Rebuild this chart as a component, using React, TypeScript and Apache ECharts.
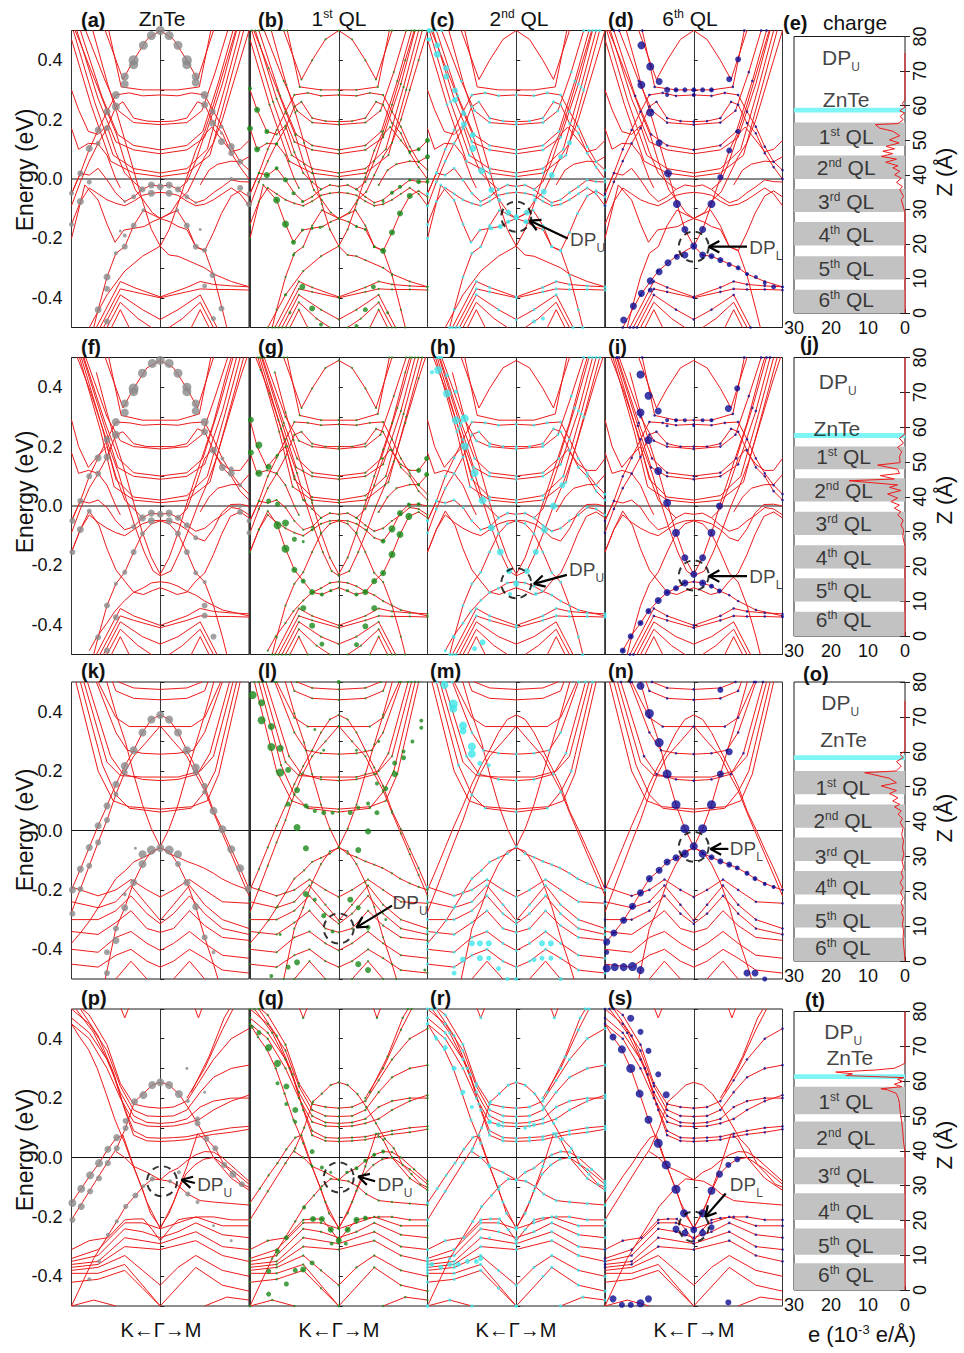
import React, { useEffect, useRef } from "react";
import * as echarts from "echarts";

const FONT = "'Liberation Sans', Arial, 'DejaVu Sans', sans-serif";
const W = 964;
const H = 1353;

// ---------------- layout (pixels) ----------------
const COL_LEFT = [71.5, 250, 427.5, 605];
const COL_W = 177.5;
const ROW_TOP = [30.5, 357.5, 682, 1009];
const ROW_H = 297;
const CH_LEFT = 794;
const CH_W = 111;
const CH_TOP = [36.5, 357.5, 682, 1011.5];
const CH_H = [276.5, 278.5, 279, 278.5];

// ---------------- axis / tick data ----------------
const energyTickLabels = ["-0.4", "-0.2", "0.0", "0.2", "0.4"];
const panelLetters = [
  ["(a)", "(b)", "(c)", "(d)", "(e)"],
  ["(f)", "(g)", "(h)", "(i)", "(j)"],
  ["(k)", "(l)", "(m)", "(n)", "(o)"],
  ["(p)", "(q)", "(r)", "(s)", "(t)"],
];
const columnTitles = ["ZnTe", "1{s|st} QL", "2{s|nd} QL", "6{s|th} QL"];
const qlNames = ["1{s|st} QL", "2{s|nd} QL", "3{s|rd} QL", "4{s|th} QL", "5{s|th} QL", "6{s|th} QL"];

// ---------------- band structures: [k, E(eV)] vertices, k=-1 (K) .. 0 (Γ) .. 1 (M) ----------------
const bandsR1 = [
  [[-0.8,0.75],[-0.62,0.5],[-0.42,0.335],[-0.3,0.4],[-0.15,0.47],[0,0.5],[0.15,0.47],[0.3,0.4],[0.42,0.335],[0.6,0.5],[0.8,0.75]],
  [[-0.76,0.75],[-0.58,0.5],[-0.44,0.31],[-0.2,0.3],[0,0.3],[0.2,0.3],[0.44,0.31],[0.57,0.5],[0.75,0.75]],
  [[-1,-0.05],[-0.9,0.02],[-0.8,0.1],[-0.7,0.165],[-0.6,0.227],[-0.5,0.283],[-0.35,0.29],[-0.2,0.28],[0,0.283],[0.2,0.28],[0.35,0.29],[0.5,0.283],[0.6,0.227],[0.7,0.176],[0.8,0.109],[0.9,0.058],[1,0.03]],
  [[-1,-0.09],[-0.9,-0.01],[-0.8,0.06],[-0.7,0.12],[-0.6,0.171],[-0.5,0.244],[-0.42,0.26],[-0.3,0.205],[-0.15,0.195],[0,0.193],[0.15,0.195],[0.3,0.205],[0.42,0.26],[0.5,0.25],[0.6,0.188],[0.7,0.154],[0.8,0.087],[0.9,0.04],[1,0.0]],
  [[-0.84,0.5],[-0.62,0.33],[-0.47,0.23],[-0.3,0.19],[0,0.183],[0.3,0.19],[0.47,0.23],[0.62,0.36],[0.76,0.5]],
  [[-0.9,0.5],[-0.66,0.28],[-0.48,0.15],[-0.3,0.113],[0,0.098],[0.3,0.113],[0.48,0.16],[0.66,0.33],[0.82,0.5]],
  [[-0.94,0.5],[-0.7,0.27],[-0.5,0.125],[-0.3,0.098],[0,0.085],[0.3,0.098],[0.5,0.14],[0.7,0.32],[0.86,0.5]],
  [[-0.98,0.5],[-0.74,0.26],[-0.53,0.08],[-0.3,0.035],[0,0.02],[0.3,0.035],[0.53,0.1],[0.73,0.31],[0.9,0.5]],
  [[-1,0.47],[-0.78,0.25],[-0.56,0.06],[-0.3,0.02],[0,0.008],[0.3,0.02],[0.56,0.08],[0.76,0.3],[0.94,0.5]],
  [[-1,0.3],[-0.92,0.233],[-0.81,0.16],[-0.7,0.15],[-0.6,0.18],[-0.5,0.09],[-0.4,0.02],[-0.3,-0.01],[-0.2,-0.035]],
  [[-1,0.17],[-0.92,0.1],[-0.81,0.12],[-0.7,0.118],[-0.6,0.08],[-0.5,0.0],[-0.45,-0.03]],
  [[0.2,-0.035],[0.3,-0.01],[0.4,0.06],[0.5,0.15],[0.58,0.175],[0.7,0.13],[0.8,0.092],[0.9,0.1],[1,0.13]],
  [[0.45,-0.02],[0.55,0.03],[0.65,0.05],[0.8,0.06],[0.9,0.058],[1,0.075]],
  [[-1,-0.05],[-0.9,0.02],[-0.8,0.013],[-0.7,0.036],[-0.6,-0.003],[-0.5,-0.048],[-0.4,-0.076],[-0.3,-0.06],[-0.2,-0.035],[-0.1,-0.02],[0,-0.025],[0.1,-0.02],[0.2,-0.035],[0.3,-0.06],[0.4,-0.08],[0.5,-0.07],[0.6,-0.046],[0.7,-0.026],[0.8,-0.003],[0.9,-0.009],[1,-0.01]],
  [[-1,-0.153],[-0.9,-0.076],[-0.8,-0.03],[-0.7,-0.05],[-0.6,-0.07],[-0.5,-0.082],[-0.4,-0.09],[-0.3,-0.075],[-0.2,-0.055],[-0.1,-0.048],[0,-0.045],[0.1,-0.048],[0.2,-0.055],[0.3,-0.075],[0.4,-0.09],[0.5,-0.085],[0.6,-0.07],[0.7,-0.05],[0.8,-0.03],[0.9,-0.05],[1,-0.09]],
  [[-1,-0.2],[-0.85,-0.02],[-0.7,-0.071],[-0.6,-0.152],[-0.51,-0.213],[-0.41,-0.172],[-0.3,-0.166],[-0.18,-0.16],[-0.09,-0.144],[0,-0.133],[0.11,-0.144],[0.2,-0.16],[0.3,-0.17],[0.4,-0.228],[0.5,-0.242],[0.6,-0.18],[0.69,-0.116],[0.8,-0.057],[0.9,-0.04],[1,-0.06]],
  [[-1,0.53],[-0.89,0.45],[-0.79,0.373],[-0.69,0.298],[-0.59,0.22],[-0.49,0.148],[-0.39,0.05],[-0.28,-0.037],[-0.19,-0.071],[-0.09,-0.113],[0,-0.133],[0.12,-0.113],[0.21,-0.071],[0.31,-0.043],[0.4,0.013],[0.5,0.075],[0.6,0.122],[0.7,0.2],[0.8,0.3],[0.9,0.4],[1,0.5]],
  [[-0.75,-0.5],[-0.7,-0.44],[-0.6,-0.33],[-0.5,-0.25],[-0.4,-0.228],[-0.3,-0.157],[-0.19,-0.105],[0,-0.133],[0.19,-0.105],[0.3,-0.157],[0.4,-0.228],[0.5,-0.24],[0.6,-0.324],[0.7,-0.44],[0.75,-0.5]],
  [[-0.8,-0.5],[-0.6,-0.39],[-0.4,-0.31],[-0.2,-0.26],[0,-0.226],[0.1,-0.256],[0.2,-0.26],[0.3,-0.273],[0.5,-0.299],[0.6,-0.32],[0.8,-0.345],[1,-0.363]],
  [[-0.76,0.5],[-0.59,0.317],[-0.49,0.224],[-0.39,0.122],[-0.29,0.019],[-0.19,-0.084],[-0.1,-0.17],[0,-0.226],[0.1,-0.17],[0.2,-0.084],[0.3,0.006],[0.4,0.096],[0.5,0.16],[0.6,0.25],[0.75,0.4],[0.85,0.5]],
  [[-0.72,-0.5],[-0.45,-0.345],[-0.3,-0.365],[0,-0.397],[0.3,-0.365],[0.45,-0.345],[0.6,-0.355],[0.8,-0.36],[1,-0.363]],
  [[-0.68,-0.5],[-0.45,-0.37],[-0.3,-0.38],[0,-0.4],[0.3,-0.38],[0.45,-0.37],[0.6,-0.372],[0.8,-0.372],[1,-0.374]],
  [[-0.64,-0.5],[-0.45,-0.39],[-0.2,-0.44],[0,-0.473],[0.2,-0.44],[0.45,-0.39],[0.64,-0.5]],
  [[-0.6,-0.5],[-0.45,-0.415],[-0.25,-0.47],[-0.1,-0.5]],
  [[0.1,-0.5],[0.25,-0.47],[0.45,-0.415],[0.6,-0.5]],
  [[-0.55,-0.5],[-0.45,-0.44],[-0.35,-0.5]],
  [[0.35,-0.5],[0.45,-0.44],[0.55,-0.5]],
];

const bandsR2 = [
  [[-0.8,0.75],[-0.62,0.5],[-0.42,0.33],[-0.3,0.396],[-0.15,0.465],[0,0.49],[0.15,0.465],[0.3,0.396],[0.42,0.33],[0.6,0.5],[0.8,0.75]],
  [[-0.76,0.75],[-0.58,0.5],[-0.44,0.305],[-0.2,0.289],[0,0.289],[0.2,0.289],[0.44,0.31],[0.57,0.5],[0.75,0.75]],
  [[-1,-0.05],[-0.9,0.017],[-0.8,0.1],[-0.7,0.162],[-0.6,0.224],[-0.5,0.283],[-0.35,0.28],[-0.2,0.272],[0,0.275],[0.2,0.272],[0.35,0.28],[0.5,0.283],[0.6,0.225],[0.7,0.16],[0.8,0.11],[0.9,0.07],[1,0.04]],
  [[-1,-0.09],[-0.9,-0.01],[-0.8,0.06],[-0.7,0.109],[-0.6,0.165],[-0.5,0.24],[-0.42,0.25],[-0.3,0.21],[-0.15,0.2],[0,0.2],[0.15,0.2],[0.3,0.21],[0.42,0.26],[0.5,0.25],[0.6,0.188],[0.7,0.13],[0.8,0.1],[0.9,0.05],[1,0.02]],
  [[-0.84,0.5],[-0.6,0.3],[-0.45,0.22],[-0.3,0.2],[0,0.192],[0.3,0.2],[0.47,0.24],[0.62,0.37],[0.76,0.5]],
  [[-0.86,0.5],[-0.62,0.28],[-0.47,0.16],[-0.3,0.112],[0,0.101],[0.3,0.112],[0.48,0.16],[0.66,0.33],[0.82,0.5]],
  [[-0.87,0.5],[-0.63,0.27],[-0.48,0.13],[-0.3,0.1],[0,0.09],[0.3,0.1],[0.5,0.14],[0.7,0.32],[0.86,0.5]],
  [[-0.89,0.5],[-0.65,0.26],[-0.5,0.09],[-0.3,0.03],[0,0.02],[0.3,0.035],[0.53,0.1],[0.73,0.31],[0.9,0.5]],
  [[-0.91,0.5],[-0.67,0.25],[-0.52,0.065],[-0.3,0.02],[0,0.011],[0.3,0.02],[0.56,0.08],[0.76,0.3],[0.94,0.5]],
  [[-1,0.29],[-0.92,0.2],[-0.81,0.13],[-0.7,0.17],[-0.6,0.2],[-0.5,0.1],[-0.4,0.02],[-0.3,-0.01],[-0.2,-0.04]],
  [[-1,0.18],[-0.92,0.11],[-0.81,0.12],[-0.7,0.11],[-0.6,0.07],[-0.5,0.0],[-0.45,-0.03]],
  [[0.2,-0.04],[0.3,-0.01],[0.4,0.07],[0.5,0.16],[0.58,0.19],[0.7,0.14],[0.8,0.12],[0.9,0.12],[1,0.16]],
  [[0.45,-0.02],[0.55,0.03],[0.65,0.06],[0.8,0.072],[0.9,0.072],[1,0.106]],
  [[-1,-0.05],[-0.9,0.017],[-0.8,0.01],[-0.7,0.02],[-0.6,-0.005],[-0.5,-0.05],[-0.4,-0.08],[-0.3,-0.07],[-0.2,-0.04],[-0.1,-0.024],[0,-0.028],[0.1,-0.024],[0.2,-0.04],[0.3,-0.065],[0.4,-0.085],[0.5,-0.075],[0.6,-0.05],[0.7,-0.03],[0.8,-0.005],[0.9,-0.01],[1,-0.03]],
  [[-1,-0.155],[-0.9,-0.079],[-0.8,-0.03],[-0.7,-0.055],[-0.6,-0.075],[-0.5,-0.09],[-0.4,-0.1],[-0.3,-0.08],[-0.2,-0.06],[-0.1,-0.05],[0,-0.048],[0.1,-0.05],[0.2,-0.06],[0.3,-0.08],[0.4,-0.107],[0.5,-0.118],[0.6,-0.077],[0.69,-0.024],[0.79,0.005],[0.9,0.006],[1,0.0]],
  [[-1,-0.155],[-0.9,-0.079],[-0.8,-0.017],[-0.69,-0.065],[-0.6,-0.144],[-0.5,-0.215],[-0.4,-0.253],[-0.3,-0.29],[-0.19,-0.298],[-0.09,-0.285],[0,-0.275],[0.09,-0.285],[0.19,-0.298],[0.3,-0.29],[0.4,-0.253],[0.5,-0.226],[0.6,-0.163],[0.69,-0.096],[0.79,-0.035],[0.9,-0.02],[1,-0.04]],
  [[-1,0.55],[-0.88,0.458],[-0.78,0.379],[-0.68,0.289],[-0.58,0.201],[-0.47,0.111],[-0.38,0.019],[-0.28,-0.073],[-0.18,-0.155],[-0.08,-0.219],[0,-0.235],[0.12,-0.219],[0.22,-0.155],[0.32,-0.08],[0.42,0.0],[0.52,0.07],[0.62,0.15],[0.75,0.28],[0.9,0.43],[1,0.52]],
  [[-0.72,0.45],[-0.6,0.315],[-0.51,0.222],[-0.4,0.118],[-0.3,0.011],[-0.2,-0.09],[-0.1,-0.174],[0,-0.23],[0.1,-0.174],[0.2,-0.09],[0.29,0.0],[0.4,0.1],[0.5,0.19],[0.6,0.28],[0.75,0.45],[0.8,0.5]],
  [[-0.75,-0.5],[-0.7,-0.442],[-0.6,-0.335],[-0.5,-0.262],[-0.4,-0.223],[-0.3,-0.155],[-0.2,-0.093],[-0.1,-0.06],[0,-0.05],[0.1,-0.06],[0.2,-0.093],[0.3,-0.155],[0.4,-0.225],[0.5,-0.256],[0.6,-0.335],[0.7,-0.44],[0.75,-0.5]],
  [[-0.8,-0.487],[-0.71,-0.439],[-0.6,-0.394],[-0.51,-0.354],[-0.4,-0.318],[-0.3,-0.291],[-0.2,-0.277],[-0.1,-0.259],[0,-0.255],[0.1,-0.259],[0.2,-0.27],[0.29,-0.286],[0.4,-0.3],[0.5,-0.32],[0.7,-0.35],[1,-0.37]],
  [[-0.72,-0.5],[-0.45,-0.345],[-0.3,-0.37],[0,-0.402],[0.3,-0.37],[0.45,-0.345],[0.6,-0.355],[0.8,-0.36],[1,-0.363]],
  [[-0.68,-0.5],[-0.45,-0.37],[-0.3,-0.385],[0,-0.41],[0.3,-0.385],[0.45,-0.37],[0.6,-0.372],[0.8,-0.372],[1,-0.374]],
  [[-0.64,-0.5],[-0.45,-0.39],[-0.2,-0.44],[0,-0.465],[0.2,-0.44],[0.45,-0.39],[0.64,-0.5]],
  [[-0.6,-0.5],[-0.45,-0.415],[-0.25,-0.47],[-0.1,-0.5]],
  [[0.1,-0.5],[0.25,-0.47],[0.45,-0.415],[0.6,-0.5]],
  [[-0.55,-0.5],[-0.45,-0.44],[-0.35,-0.5]],
  [[0.35,-0.5],[0.45,-0.44],[0.55,-0.5]],
];

const bandsR3 = [
  [[-0.62,0.6],[-0.47,0.5],[-0.3,0.48],[0,0.475],[0.3,0.48],[0.47,0.5],[0.62,0.6]],
  [[-0.66,0.6],[-0.5,0.47],[-0.3,0.445],[0,0.44],[0.3,0.445],[0.5,0.47],[0.66,0.6]],
  [[-1,-0.2],[-0.9,-0.13],[-0.8,-0.057],[-0.7,0.016],[-0.6,0.083],[-0.5,0.156],[-0.4,0.217],[-0.3,0.27],[-0.2,0.33],[-0.1,0.374],[0,0.389],[0.1,0.374],[0.2,0.33],[0.3,0.27],[0.4,0.212],[0.5,0.15],[0.6,0.066],[0.7,0.004],[0.8,-0.063],[0.9,-0.127],[1,-0.197]],
  [[-1,-0.275],[-0.9,-0.197],[-0.8,-0.119],[-0.7,-0.04],[-0.6,0.035],[-0.5,0.122],[-0.4,0.195],[-0.3,0.25],[-0.15,0.3],[0,0.352],[0.15,0.3],[0.3,0.25],[0.4,0.19],[0.5,0.135],[0.6,0.06],[0.7,-0.01],[0.8,-0.08],[0.9,-0.15],[1,-0.22]],
  [[-0.72,0.5],[-0.5,0.33],[-0.37,0.27],[-0.2,0.26],[0,0.257],[0.2,0.26],[0.37,0.27],[0.5,0.33],[0.7,0.5]],
  [[-0.7,0.5],[-0.5,0.38],[-0.35,0.35],[0,0.35],[0.35,0.35],[0.5,0.38],[0.68,0.5]],
  [[-0.82,0.5],[-0.56,0.25],[-0.42,0.19],[-0.2,0.172],[0,0.168],[0.2,0.172],[0.42,0.19],[0.56,0.26],[0.78,0.5]],
  [[-0.86,0.5],[-0.6,0.23],[-0.45,0.185],[-0.2,0.18],[0,0.18],[0.2,0.18],[0.45,0.2],[0.6,0.25],[0.82,0.5]],
  [[-0.9,0.5],[-0.65,0.22],[-0.5,0.12],[-0.35,0.075],[0,0.062],[0.35,0.075],[0.5,0.13],[0.62,0.2],[0.86,0.5]],
  [[-0.95,0.5],[-0.7,0.2],[-0.53,0.1],[-0.35,0.08],[0,0.072],[0.35,0.08],[0.53,0.1],[0.66,0.19],[0.9,0.5]],
  [[-0.65,0.55],[-0.5,0.394],[-0.39,0.296],[-0.3,0.19],[-0.2,0.087],[-0.1,0.006],[0,-0.055],[0.1,0.006],[0.2,0.087],[0.3,0.19],[0.4,0.29],[0.5,0.39],[0.65,0.55]],
  [[-1,-0.38],[-0.9,-0.345],[-0.79,-0.302],[-0.69,-0.255],[-0.6,-0.21],[-0.5,-0.162],[-0.39,-0.134],[-0.3,-0.106],[-0.2,-0.092],[-0.1,-0.078],[0,-0.055],[0.1,-0.078],[0.2,-0.09],[0.3,-0.104],[0.4,-0.115],[0.49,-0.126],[0.6,-0.144],[0.69,-0.162],[0.8,-0.178],[0.9,-0.19],[1,-0.2]],
  [[-0.62,-0.5],[-0.5,-0.33],[-0.4,-0.26],[-0.3,-0.175],[-0.2,-0.113],[-0.1,-0.07],[0,-0.059],[0.1,-0.07],[0.2,-0.113],[0.3,-0.175],[0.4,-0.257],[0.5,-0.36],[0.6,-0.45],[0.65,-0.5]],
  [[-1,-0.19],[-0.7,-0.22],[-0.5,-0.2],[-0.33,-0.165],[-0.15,-0.2],[0,-0.224],[0.15,-0.2],[0.33,-0.165],[0.5,-0.2],[0.7,-0.24],[1,-0.245]],
  [[-1,-0.24],[-0.7,-0.26],[-0.5,-0.24],[-0.33,-0.185],[-0.15,-0.25],[0,-0.303],[0.15,-0.25],[0.33,-0.185],[0.5,-0.25],[0.7,-0.3],[1,-0.33]],
  [[-1,-0.3],[-0.7,-0.3],[-0.5,-0.27],[-0.33,-0.22],[-0.15,-0.28],[0,-0.314],[0.15,-0.28],[0.33,-0.22],[0.5,-0.28],[0.7,-0.33],[1,-0.35]],
  [[-1,-0.34],[-0.7,-0.35],[-0.5,-0.31],[-0.33,-0.27],[-0.15,-0.33],[0,-0.343],[0.15,-0.33],[0.33,-0.27],[0.5,-0.32],[0.7,-0.36],[1,-0.37]],
  [[-1,-0.4],[-0.7,-0.41],[-0.5,-0.36],[-0.33,-0.34],[-0.15,-0.38],[0,-0.404],[0.15,-0.38],[0.33,-0.34],[0.5,-0.38],[0.7,-0.42],[1,-0.43]],
  [[-1,-0.45],[-0.7,-0.46],[-0.5,-0.42],[-0.33,-0.4],[-0.15,-0.44],[0,-0.46],[0.15,-0.44],[0.33,-0.4],[0.5,-0.43],[0.7,-0.47],[1,-0.48]],
  [[-0.5,-0.5],[-0.33,-0.44],[-0.15,-0.5]],
  [[0.15,-0.5],[0.33,-0.44],[0.5,-0.5]],
];

const bandsR4 = [
  [[-0.6,0.62],[-0.4,0.47],[-0.2,0.62]],
  [[0.25,0.62],[0.43,0.47],[0.62,0.62]],
  [[-1,0.53],[-0.8,0.48],[-0.6,0.38],[-0.45,0.25],[-0.3,0.18],[-0.15,0.17],[0,0.166],[0.15,0.17],[0.3,0.19],[0.45,0.26],[0.6,0.33],[0.8,0.4],[1,0.434]],
  [[-1,0.5],[-0.8,0.45],[-0.6,0.36],[-0.45,0.24],[-0.3,0.16],[-0.15,0.14],[0,0.138],[0.15,0.14],[0.3,0.16],[0.45,0.22],[0.6,0.27],[0.8,0.3],[1,0.311]],
  [[-1,0.47],[-0.8,0.42],[-0.6,0.33],[-0.45,0.22],[-0.3,0.14],[-0.15,0.118],[0,0.115],[0.15,0.118],[0.3,0.13],[0.45,0.17],[0.6,0.19],[0.8,0.2],[1,0.2]],
  [[-1,0.45],[-0.8,0.4],[-0.6,0.3],[-0.45,0.2],[-0.3,0.12],[-0.15,0.106],[0,0.104],[0.15,0.106],[0.3,0.115],[0.45,0.13],[0.6,0.16],[0.8,0.19],[1,0.21]],
  [[-0.95,0.5],[-0.75,0.42],[-0.55,0.3],[-0.42,0.18],[-0.3,0.09],[-0.15,0.067],[0,0.065],[0.15,0.067],[0.3,0.07],[0.45,0.08],[0.6,0.09],[0.8,0.1],[1,0.105]],
  [[-0.9,0.5],[-0.7,0.41],[-0.52,0.28],[-0.4,0.16],[-0.3,0.075],[-0.15,0.056],[0,0.054],[0.15,0.056],[0.3,0.06],[0.45,0.07],[0.6,0.078],[0.8,0.085],[1,0.095]],
  [[0.3,0.2],[0.5,0.3],[0.7,0.43],[0.82,0.5]],
  [[0.35,0.22],[0.55,0.34],[0.72,0.47],[0.78,0.5]],
  [[-1,-0.21],[-0.8,-0.114],[-0.6,-0.019],[-0.49,0.031],[-0.39,0.1],[-0.29,0.188],[-0.19,0.215],[-0.09,0.244],[0,0.253],[0.1,0.244],[0.21,0.214],[0.31,0.17],[0.42,0.115],[0.52,0.063],[0.62,0.031],[0.72,-0.025],[0.82,-0.056],[0.92,-0.09],[1,-0.1]],
  [[-1,-0.153],[-0.89,-0.105],[-0.79,-0.06],[-0.69,-0.019],[-0.59,0.028],[-0.49,0.067],[-0.42,0.075],[-0.3,-0.03],[-0.15,-0.15],[0,-0.24],[0.15,-0.15],[0.3,-0.03],[0.42,0.08],[0.5,0.06],[0.6,0.0],[0.8,-0.07],[1,-0.11]],
  [[-1,-0.5],[-0.75,-0.34],[-0.49,-0.215],[-0.39,-0.165],[-0.28,-0.128],[-0.19,-0.097],[-0.09,-0.072],[0,-0.075],[0.1,-0.05],[0.2,-0.036],[0.3,-0.011],[0.4,0.009],[0.5,0.02],[0.6,0.018],[0.7,0.0],[0.85,-0.04],[1,-0.08]],
  [[-0.5,0.02],[-0.4,0.0],[-0.3,-0.03],[-0.15,-0.05],[0,-0.075],[0.11,-0.08],[0.21,-0.097],[0.31,-0.123],[0.45,-0.145],[0.6,-0.15],[0.8,-0.155],[1,-0.16]],
  [[-1,0.45],[-0.91,0.406],[-0.81,0.364],[-0.71,0.3],[-0.61,0.215],[-0.51,0.127],[-0.4,0.048],[-0.31,-0.025],[-0.2,-0.107],[-0.11,-0.188],[0,-0.235],[0.1,-0.188],[0.2,-0.112],[0.29,-0.056],[0.39,-0.025],[0.49,-0.006],[0.6,0.0],[0.8,-0.04],[1,-0.09]],
  [[-1,-0.31],[-0.8,-0.28],[-0.59,-0.27],[-0.4,-0.21],[-0.29,-0.207],[-0.19,-0.207],[-0.09,-0.243],[0,-0.28],[0.1,-0.243],[0.2,-0.21],[0.3,-0.204],[0.45,-0.2],[0.6,-0.2],[0.8,-0.21],[1,-0.21]],
  [[-1,-0.34],[-0.7,-0.31],[-0.4,-0.22],[-0.2,-0.22],[0,-0.24],[0.2,-0.22],[0.4,-0.2],[0.7,-0.23],[1,-0.23]],
  [[-1,-0.35],[-0.7,-0.33],[-0.4,-0.24],[-0.2,-0.25],[0,-0.27],[0.2,-0.25],[0.4,-0.22],[0.7,-0.26],[1,-0.27]],
  [[-1,-0.36],[-0.7,-0.35],[-0.4,-0.27],[0,-0.29],[0.4,-0.25],[0.7,-0.3],[1,-0.31]],
  [[-1,-0.37],[-0.7,-0.36],[-0.4,-0.3],[0,-0.31],[0.4,-0.28],[0.7,-0.33],[1,-0.35]],
  [[-1,-0.38],[-0.7,-0.37],[-0.4,-0.33],[-0.2,-0.38],[0,-0.43],[0.2,-0.37],[0.4,-0.33],[0.7,-0.38],[1,-0.4]],
  [[-1,-0.39],[-0.7,-0.39],[-0.4,-0.36],[0,-0.5],[0.4,-0.37],[0.7,-0.43],[1,-0.45]],
  [[-1,-0.42],[-0.7,-0.41],[-0.4,-0.38],[-0.2,-0.44],[0,-0.5]],
  [[-1,-0.5],[-0.75,-0.48],[-0.5,-0.5]],
  [[0.5,-0.5],[0.75,-0.47],[1,-0.48]],
];

// ---------------- projected weights: [k, E, dot diameter px] ----------------
const dotsA = [
  [0,0.5,9],[-0.1,0.483,9],[-0.19,0.45,9],[-0.3,0.4,10],[-0.3,0.385,9],[-0.4,0.345,8],[-0.4,0.32,8],
  [0.1,0.483,9],[0.2,0.45,9],[0.3,0.4,10],[0.3,0.385,9],[0.4,0.345,8],[0.4,0.325,8],
  [-0.5,0.283,8],[-0.5,0.244,8],[-0.6,0.227,7],[-0.6,0.171,6],[-0.7,0.165,7],[-0.7,0.12,5],[-0.8,0.103,7],[-0.9,0.019,6],[-1,-0.048,5],[-0.9,-0.076,7],[-0.8,-0.01,5],[-1,-0.153,5],
  [0.5,0.283,8],[0.5,0.25,7],[0.59,0.227,6],[0.59,0.188,7],[0.69,0.176,4],[0.69,0.154,3],[0.69,0.126,7],[0.8,0.109,7],[0.8,0.087,6],[0.9,0.058,6],[1,-0.05,5],[1,-0.085,6],[0.9,-0.03,6],[0.8,0.0,4],
  [-0.1,-0.02,7],[0,-0.026,7],[0.1,-0.02,7],[-0.1,-0.048,7],[0.1,-0.048,7],[-0.2,-0.035,6],[0.2,-0.035,6],[-0.3,-0.06,5],[0.3,-0.06,5],[-0.4,-0.076,3],[0.4,-0.08,3],
  [-0.19,-0.105,4],[0.19,-0.105,4],[-0.3,-0.157,6],[0.3,-0.157,6],[-0.4,-0.228,6],[0.4,-0.228,6],[-0.4,-0.19,4],[-0.5,-0.25,4],[0.5,-0.24,5],
  [-0.6,-0.33,7],[-0.7,-0.44,7],[-0.6,-0.37,6],[-0.6,-0.48,6],[0.59,-0.324,6],[0.5,-0.36,5],[0.69,-0.436,6],[0.6,-0.47,5],[-0.45,-0.175,3],[0.45,-0.17,3],
];
const dotsB = [
  [-0.92,0.233,6],[-0.81,0.16,5],[-1,0.17,6],[-0.92,0.1,6],[-0.7,0.118,3],[-1,0.305,4],
  [-0.81,0.013,6],[-0.7,0.036,4],[-0.6,-0.003,5],[-0.51,-0.048,4],[-0.41,-0.076,3],
  [-0.7,-0.071,7],[-0.6,-0.152,7],[-0.51,-0.213,5],[-0.51,-0.256,3],[-0.41,-0.172,3],[-0.3,-0.166,3],[-0.21,-0.163,3],
  [0.2,-0.16,3],[0.3,-0.17,3],[0.4,-0.228,3],[0.5,-0.242,6],[0.6,-0.18,6],[0.69,-0.116,6],[0.8,-0.057,6],
  [0.5,-0.076,3],[0.6,-0.046,4],[0.69,-0.026,4],[0.8,-0.003,3],[0.9,-0.009,5],[1,-0.009,4],
  [0.8,0.092,3],[0.9,0.1,4],[1,0.075,5],[1,0.13,5],
  [-0.41,-0.363,6],[-0.3,-0.436,6],[-0.2,-0.49,4],[0.39,-0.363,5],[0.3,-0.44,5],[0.2,-0.495,4],
  [-0.6,-0.39,3],[-0.55,-0.45,3],[0.55,-0.45,3],
];
const dotsC = [
  [-0.89,0.45,6],[-0.89,0.42,7],[-0.79,0.373,6],[-0.79,0.345,6],[-0.69,0.298,6],[-0.69,0.266,6],[-0.59,0.22,5],[-0.59,0.184,6],[-0.49,0.148,6],[-0.49,0.103,7],[-0.39,0.028,7],[-0.28,-0.037,6],[-0.19,-0.071,4],[-0.09,-0.113,6],[0,-0.129,6],[0.12,-0.113,6],[0.11,-0.144,5],[-0.09,-0.144,4],[-0.18,-0.16,5],[-0.28,-0.166,4],[0.31,-0.043,6],[0.4,0.013,6],[0.5,0.075,5],[0.6,0.122,5],[0.21,-0.071,4],[0.2,-0.48,4],[0.3,-0.47,4],[-0.98,0.5,5],[-0.98,0.47,4],
];
const dotsD = [
  [-0.59,0.45,8],[-0.49,0.379,8],[-0.39,0.328,7],[-0.59,0.317,8],[-0.49,0.224,8],[-0.39,0.122,7],[-0.29,0.019,8],[0.3,0.006,6],[0.4,0.096,6],[0.5,0.16,5],[0.4,0.336,6],[0.5,0.403,6],
  [-0.3,0.3,6],[-0.2,0.3,5],[-0.1,0.3,5],[0,0.3,5],[0.1,0.3,5],[0.2,0.3,5],[-0.3,0.283,4],[0,0.283,4],
  [-0.19,-0.084,8],[0.2,-0.084,8],[-0.1,-0.17,7],[0.1,-0.17,7],[0,-0.226,7],[-0.1,-0.256,7],[0.1,-0.256,7],[0.2,-0.26,6],[0.3,-0.273,6],[0.4,-0.288,5],[0.5,-0.299,5],[-0.19,-0.262,6],[-0.29,-0.282,7],[-0.39,-0.312,7],[-0.49,-0.343,7],[-0.59,-0.385,7],[-0.68,-0.428,7],[-0.79,-0.475,7],[-0.49,-0.374,5],[0.9,-0.363,5],[0.6,-0.32,4],[0.7,-0.33,4],[0.8,-0.35,4],
];
const dotsF = [
  [-0.09,0.48,9],[-0.2,0.447,9],[-0.3,0.396,10],[-0.3,0.385,9],[-0.4,0.345,8],[-0.4,0.315,8],[-0.5,0.283,8],[-0.5,0.24,8],[-0.6,0.224,7],[-0.7,0.162,7],[-0.6,0.165,7],[-0.7,0.109,6],[-0.8,0.1,6],[-0.9,0.017,6],[-0.8,-0.017,5],[-0.9,-0.079,7],[-0.99,-0.05,6],[-0.99,-0.155,6],
  [0,0.49,9],[0.1,0.48,9],[0.2,0.447,9],[0.3,0.4,9],[0.3,0.385,9],[0.4,0.345,8],[0.4,0.32,8],[0.5,0.283,8],[0.5,0.25,7],[0.6,0.188,7],[0.7,0.13,7],[0.8,0.11,7],[0.8,0.125,5],[0.9,0.07,4],[0.7,0.16,4],
  [-0.2,-0.04,7],[-0.1,-0.024,7],[-0.1,-0.05,7],[0,-0.028,7],[0.1,-0.024,7],[0.1,-0.05,7],[0.2,-0.04,6],[0.2,-0.093,6],[0.3,-0.065,6],[0.3,-0.155,6],[0.4,-0.107,5],[0.4,-0.225,5],[-0.3,-0.07,5],[-0.2,-0.093,5],[-0.3,-0.155,6],[-0.4,-0.223,5],[-0.5,-0.262,4],[-0.6,-0.335,6],[-0.5,-0.375,6],[-0.7,-0.442,6],[-0.6,-0.487,6],[0.5,-0.335,6],[0.5,-0.369,6],[0.6,-0.44,6],[0.5,-0.256,4],[0.9,-0.02,6],[1,-0.05,5],[1,-0.09,5],[0.9,0.0,4],
];
const dotsG = [
  [-0.9,0.205,7],[-0.99,0.18,6],[-0.99,0.29,6],[-0.79,0.132,6],[-0.9,0.11,7],[-0.69,0.171,3],[-0.79,0.017,5],[-0.69,0.006,5],[-0.69,-0.065,8],[-0.6,-0.057,7],[-0.5,-0.112,5],[-0.6,-0.144,8],[-0.5,-0.215,6],[-0.4,-0.253,5],[-0.3,-0.29,6],[-0.19,-0.298,4],[-0.09,-0.285,3],[0.1,-0.285,3],[0.2,-0.298,4],[0.3,-0.29,6],[0.4,-0.253,6],[0.5,-0.226,6],[0.6,-0.163,7],[0.69,-0.096,7],[0.79,-0.035,7],[0.5,-0.118,5],[0.6,-0.077,7],[0.69,-0.024,6],[0.79,0.005,4],[0.9,0.006,4],[0.9,0.12,5],[0.9,0.072,3],[0.99,0.16,5],[0.99,0.106,5],[-0.4,-0.344,6],[-0.3,-0.403,6],[-0.19,-0.465,5],[0.4,-0.344,6],[0.3,-0.405,6],[0.2,-0.467,5],[-0.4,-0.12,3],[-0.3,-0.08,3],
];
const dotsH = [
  [-0.88,0.458,8],[-0.78,0.379,8],[-0.68,0.289,8],[-0.58,0.295,8],[-0.58,0.201,8],[-0.47,0.111,8],[-0.38,0.019,8],[-0.28,-0.073,7],[-0.18,-0.155,7],[-0.08,-0.219,6],[0.12,-0.219,6],[0,-0.262,6],[0.22,-0.155,6],[0.32,-0.08,7],[0.42,0.0,7],[0.52,0.07,6],[-0.07,-0.296,4],[0.22,-0.296,4],[-0.38,-0.459,6],[-0.47,-0.48,5],[-0.68,0.385,4],[-0.78,0.44,4],[-0.95,0.45,4],
];
const dotsI = [
  [-0.6,0.443,8],[-0.51,0.371,8],[-0.6,0.315,8],[-0.4,0.32,7],[-0.51,0.222,8],[-0.4,0.118,8],[-0.3,0.011,8],[0.29,0.0,7],[0.39,0.328,7],[0.49,0.396,6],[-0.2,-0.09,8],[0.2,-0.09,8],[-0.1,-0.174,7],[0.1,-0.174,7],[0,-0.23,7],[-0.1,-0.259,7],[0.1,-0.259,7],[-0.2,-0.277,6],[-0.3,-0.291,7],[-0.4,-0.318,7],[-0.51,-0.354,6],[-0.6,-0.394,6],[-0.71,-0.439,6],[-0.8,-0.487,6],[0.2,-0.27,5],[0.29,-0.286,5],[-0.3,0.289,4],[-0.2,0.289,4],[-0.1,0.289,4],[0.1,0.289,4],[0.2,0.289,4],[-0.3,0.27,3],[0,0.27,3],
];
const dotsK = [
  [-0.99,-0.2,7],[-0.9,-0.13,7],[-0.8,-0.057,7],[-0.7,0.016,7],[-0.6,0.083,7],[-0.5,0.156,7],[-0.4,0.217,8],[-0.9,-0.197,6],[-0.8,-0.119,6],[-0.7,-0.04,6],[-0.6,0.035,6],[-0.5,0.122,5],[-0.4,0.195,6],[-0.3,0.27,8],[-0.2,0.33,8],[-0.1,0.374,8],[0,0.389,8],[0.1,0.374,8],[0.2,0.33,8],[0.3,0.27,8],[0.4,0.212,8],[0.4,0.195,6],[0.5,0.15,6],[0.5,0.13,5],[0.6,0.066,8],[0.7,0.004,8],[0.8,-0.063,8],[0.9,-0.127,8],[0.99,-0.197,7],
  [-0.2,-0.08,8],[-0.1,-0.066,9],[0,-0.059,8],[0.1,-0.066,9],[0.2,-0.08,8],[-0.2,-0.113,8],[0.2,-0.113,6],[-0.3,-0.175,7],[0.3,-0.175,7],[-0.4,-0.26,7],[0.4,-0.257,7],[-0.5,-0.33,6],[-0.5,-0.37,7],[0.5,-0.36,6],[-0.6,-0.41,6],[-0.99,-0.28,6],[-0.6,-0.48,6],[-0.4,-0.215,4],[0.6,-0.41,4],[-0.28,-0.06,3],
];
const dotsL = [
  [-0.97,0.456,8],[-0.87,0.43,7],[-0.87,0.371,8],[-0.76,0.35,7],[-0.76,0.281,8],[-0.66,0.277,7],[-0.66,0.195,8],[-0.57,0.204,6],[-0.47,0.136,6],[-0.57,0.089,5],[-0.47,0.01,7],[-0.37,0.083,5],[-0.37,-0.06,6],[-0.27,0.066,4],[-0.17,0.06,5],[-0.07,0.06,4],[0.13,0.06,5],[0.22,0.077,4],[0.33,0.091,4],[0.43,0.06,5],[0.33,-0.003,6],[0.22,-0.066,6],[0.53,0.141,5],[0.43,0.158,4],[0.63,0.19,6],[0.63,0.227,5],[0.73,0.245,5],[0.73,0.266,4],[0.83,0.3,4],[0.93,0.346,4],[0.93,0.37,4],
  [-0.37,-0.214,6],[-0.27,-0.233,4],[-0.17,-0.287,5],[-0.07,-0.34,4],[0.13,-0.233,6],[0.22,-0.26,5],[0.33,-0.326,5],[-0.47,-0.444,6],[-0.57,-0.46,5],[0.22,-0.45,6],[0.33,-0.47,6],[-0.76,-0.49,4],[0.97,-0.47,3],[-0.66,-0.35,3],[0.53,-0.3,3],[0,0.5,4],[-0.27,0.34,3],[-0.17,0.27,3],[0.2,0.27,3],[0.45,0.3,3],
];
const dotsM = [
  [-0.81,0.49,8],[-0.71,0.426,9],[-0.71,0.41,8],[-0.6,0.353,8],[-0.6,0.335,7],[-0.5,0.283,8],[-0.5,0.258,8],[-0.41,0.226,5],[-0.31,0.22,4],[-0.5,-0.38,6],[-0.41,-0.38,6],[-0.31,-0.38,6],[-0.6,-0.435,6],[-0.41,-0.43,6],[-0.31,-0.43,5],[-0.2,-0.465,5],[0.29,-0.38,6],[0.39,-0.38,6],[0.2,-0.435,5],[0.29,-0.43,5],[0.39,-0.43,5],[-0.7,-0.48,5],[0,-0.5,4],[-0.1,-0.5,4],[0.5,-0.5,4],
];
const dotsN = [
  [-0.6,0.487,8],[-0.5,0.394,9],[-0.39,0.296,9],[-0.3,0.19,9],[-0.2,0.087,9],[-0.1,0.006,9],[0.1,0.006,9],[0.2,0.087,9],[0.3,0.19,7],[0.4,0.265,7],[0.3,0.473,6],[0,-0.053,8],[-0.1,-0.078,8],[0.1,-0.078,8],[-0.2,-0.092,7],[-0.3,-0.106,7],[-0.39,-0.134,7],[-0.5,-0.162,7],[-0.6,-0.21,7],[-0.69,-0.255,7],[-0.79,-0.302,7],[-0.9,-0.345,7],[-0.98,-0.375,7],[0.2,-0.09,6],[0.3,-0.104,6],[0.4,-0.115,6],[0.49,-0.126,5],[0.6,-0.144,5],[0.69,-0.162,5],[0.8,-0.18,4],[0.9,-0.19,4],[-0.98,-0.464,8],[-0.89,-0.46,8],[-0.79,-0.46,8],[-0.69,-0.458,9],[-0.6,-0.47,8],[0.6,-0.48,7],[0.69,-0.48,7],[0.8,-0.5,5],[-0.98,-0.41,5],
];
const dotsP = [
  [-0.99,-0.153,8],[-0.89,-0.105,8],[-0.79,-0.06,8],[-0.69,-0.019,8],[-0.59,0.028,7],[-0.49,0.067,7],[-0.99,-0.21,6],[-0.89,-0.165,7],[-0.79,-0.114,6],[-0.69,-0.07,6],[-0.59,-0.019,6],[-0.49,0.031,6],[-0.39,0.099,6],[-0.39,0.123,6],[-0.29,0.188,7],[-0.19,0.21,8],[-0.09,0.244,8],[0,0.253,8],[0.1,0.244,8],[0.21,0.214,8],[0.31,0.19,4],[0.42,0.115,6],[0.42,0.13,5],[0.52,0.063,6],[0.62,0.031,6],[0.72,-0.025,6],[0.82,-0.056,7],[0.92,-0.09,6],[-0.28,-0.128,6],[-0.19,-0.097,4],[-0.09,-0.072,5],[0.11,-0.08,4],[0.21,-0.05,4],[0.31,-0.123,5],[-0.39,-0.165,5],[-0.49,-0.215,4],[-0.59,-0.26,4],[-0.69,-0.35,4],[-0.8,-0.41,4],[0.42,-0.15,4],[0.6,-0.23,3],[0.8,-0.28,3],[0.3,0.3,3],[0.5,0.22,3],
];
const dotsQ = [
  [-0.79,0.37,7],[-0.69,0.317,7],[-0.59,0.239,6],[-0.49,0.16,6],[-0.3,0.02,5],[-0.19,-0.034,4],[-0.09,-0.05,3],[0.09,-0.05,3],[0.2,-0.036,4],[0.3,-0.011,4],[0.4,0.009,4],[0.5,0.02,4],[-0.39,-0.168,4],[-0.29,-0.207,6],[-0.19,-0.207,6],[-0.09,-0.243,6],[0,-0.28,6],[0.1,-0.243,6],[0.2,-0.21,6],[0.3,-0.204,5],[-0.08,-0.29,4],[0.08,-0.29,4],[-0.59,-0.27,5],[-0.69,-0.316,5],[-0.79,-0.383,5],[-0.79,-0.46,5],[-0.59,-0.426,5],[-0.49,-0.38,5],[-0.4,-0.377,6],[-0.3,-0.355,5],[-0.9,0.42,5],[-0.98,0.44,4],[-0.69,0.25,4],[-0.59,0.18,4],[-0.49,0.12,4],
];
const dotsR = [
  [-0.9,0.4,4],[-0.8,0.37,5],[-0.7,0.3,5],[-0.6,0.22,5],[-0.5,0.17,4],[-0.3,0.12,5],[-0.2,0.11,5],[0.1,0.1,4],[0.2,0.11,4],[-0.95,-0.36,5],[-0.85,-0.37,5],[-0.75,-0.36,5],[-0.65,-0.36,5],[-0.55,-0.35,5],[-0.45,-0.35,5],[-0.4,-0.34,5],[-0.3,-0.27,3],[0.3,-0.4,3],
];
const dotsS = [
  [-0.71,0.469,7],[-0.91,0.406,7],[-0.81,0.364,8],[-0.71,0.3,9],[-0.6,0.423,6],[-0.51,0.359,6],[-0.4,0.28,6],[-0.31,0.211,7],[-0.61,0.215,8],[-0.51,0.127,8],[-0.4,0.048,9],[-0.31,-0.025,9],[-0.2,-0.107,9],[-0.11,-0.188,8],[0.1,-0.188,8],[0.2,-0.112,8],[0.29,-0.056,7],[0.39,-0.025,6],[0.49,-0.006,6],[-0.2,-0.241,7],[-0.1,-0.254,7],[0,-0.243,7],[0.1,-0.254,7],[0.2,-0.235,6],[-0.91,-0.476,7],[-0.81,-0.496,6],[-0.71,-0.496,6],[-0.6,-0.491,8],[-0.51,-0.476,7],[0.39,-0.488,6],
];

const panelDots = [
  [dotsA, dotsB, dotsC, dotsD],
  [dotsF, dotsG, dotsH, dotsI],
  [dotsK, dotsL, dotsM, dotsN],
  [dotsP, dotsQ, dotsR, dotsS],
];
const dotColors = ["#8a8a8a", "#1a8a1a", "#3de6ea", "#0c0c94"];
// size of the faint weight dots drawn on band vertices, and which bands carry them (null = all)
const smallDotSize = [
  [0, 2.2, 3, 2.6],
  [0, 2.2, 3, 2.6],
  [0, 2.2, 3, 2.6],
  [0, 2.4, 3.2, 2.6],
];
const smallDotBands: (number[] | null)[][] = [
  [null, null, [2, 3, 4, 5, 6, 7, 8, 13, 14, 15, 17, 20, 21, 22], [1, 2, 3, 4, 5, 18, 20, 21, 22]],
  [null, null, [2, 3, 4, 5, 6, 7, 8, 13, 18, 19, 20, 21], [1, 2, 3, 4, 5, 6, 19, 20, 21]],
  [null, null, [4, 6, 8, 11, 13, 14, 15, 16, 17, 18], [0, 1, 4, 5, 6, 11, 13, 14, 15]],
  [null, null, null, [2, 3, 4, 5, 6, 7, 15, 16, 17, 18, 19]],
];

// Dirac-point annotations (panel index, circle centre, arrow tail/tip, label anchor, subscript)
const dpMarks = [
  { panel: 2, center: [0, -0.127], tail: [0.58, -0.2], tip: [0.15, -0.14], text: [0.6, -0.205], sub: "U" },
  { panel: 3, center: [0, -0.228], tail: [0.6, -0.228], tip: [0.17, -0.228], text: [0.62, -0.232], sub: "L" },
  { panel: 6, center: [0, -0.26], tail: [0.57, -0.232], tip: [0.2, -0.262], text: [0.59, -0.215], sub: "U" },
  { panel: 7, center: [0, -0.234], tail: [0.6, -0.236], tip: [0.17, -0.236], text: [0.62, -0.236], sub: "L" },
  { panel: 9, center: [0, -0.33], tail: [0.6, -0.253], tip: [0.2, -0.326], text: [0.6, -0.243], sub: "U" },
  { panel: 11, center: [0, -0.055], tail: [0.39, -0.062], tip: [0.19, -0.062], text: [0.4, -0.062], sub: "L" },
  { panel: 12, center: [0.02, -0.08], tail: [0.39, -0.086], tip: [0.24, -0.075], text: [0.41, -0.09], sub: "U" },
  { panel: 13, center: [0, -0.067], tail: [0.41, -0.08], tip: [0.22, -0.064], text: [0.43, -0.09], sub: "U" },
  { panel: 15, center: [0, -0.233], tail: [0.36, -0.121], tip: [0.13, -0.2], text: [0.4, -0.09], sub: "L" },
];

// ---------------- charge density: [e (1e-3 e/Å), Z (Å)] ----------------
const chargeE = [[0,0],[0,29],[0.5,30.9],[1,32.8],[0.4,33.7],[1.4,35.7],[0.7,36.6],[2.3,37.8],[1,39],[2.8,40],[1.4,41],[3.3,42],[1.9,42.6],[5.2,43.6],[2.3,44.5],[6.4,45.3],[3.3,46.1],[6,46.8],[2.8,47.5],[5.1,48.2],[1.6,49.2],[4.2,50.1],[1.4,51.3],[3.3,52.6],[6.9,53.5],[8,54.5],[1.9,54.8],[0.5,55.9],[1.3,56.9],[0.1,57.9],[1.4,58.5],[0,59.6],[0.7,60.6],[0,61.7],[0,75.2]];
const chargeJ = [[0,0],[0,25.7],[0.6,28.5],[0.4,30.5],[1.1,31.9],[0.5,33.3],[2,34.8],[1.1,35.7],[2.9,36.7],[1.5,37.6],[3.8,38.6],[2,39.6],[4.7,40.8],[1.1,41.8],[4.2,42.7],[2,43.4],[15.1,44.6],[2.9,45.1],[6.7,46.1],[1.5,46.7],[2,47.9],[7.4,49.1],[1.3,49.8],[1.5,51.5],[0.9,53],[2,54.2],[0.4,55.4],[1.5,56.8],[0,58],[0,80]];
const chargeO = [[0,0],[0.2,2.9],[0.4,4.8],[0.5,6.7],[0.4,8.6],[0.7,10.5],[0.4,12.4],[0.9,13.9],[0.5,15.3],[1.1,16.7],[0.5,18.2],[1.2,19.6],[0.5,21],[1.3,22.5],[0.5,23.9],[1,25.3],[0.4,26.8],[0.8,28.7],[0.3,30.6],[0.7,32.5],[0.4,34.4],[0.9,36.3],[0.5,38.2],[1.3,39.7],[0.7,40.9],[1.9,42.1],[1,43],[2.8,44.2],[1.4,44.9],[3.3,45.9],[1.9,46.8],[4.2,48],[2.3,48.9],[6.4,50.2],[2.3,51.1],[4.2,52.4],[10.9,54],[2.3,54.5],[1,55.9],[2.3,57.2],[0.5,58.3],[1.3,59.3],[0,60.2],[0,74.6]];
const chargeT = [[0,0],[0,39.8],[0.4,42.6],[0.6,45.5],[0.9,48.4],[1.3,51.2],[1.5,53.6],[1.8,55.1],[2.4,56.5],[4.7,57.5],[6.5,57.8],[0.9,58.4],[2.9,59.1],[0.6,59.9],[2,60.5],[0.3,61],[16,61.6],[14.2,62.1],[18.7,62.6],[8,63.2],[2.9,63.7],[1.1,64.5],[0,65.2],[0,80]];
const chargeCurves = [chargeE, chargeJ, chargeO, chargeT];

// QL slabs [Zmin, Zmax] (6th .. 1st) and ZnTe layer per row
const qlSlabs = [
  [[0,6.7],[9.7,16.4],[19.5,26.3],[29.2,35.9],[38.8,45.6],[48.3,55.1]],
  [[0,7],[9.9,16.6],[19.4,26.1],[29,35.7],[38.6,45.3],[47.9,54.4]],
  [[0,6.7],[9.6,16.3],[19.1,25.8],[28.7,35.4],[38.2,44.9],[47.8,54.5]],
  [[0,7.7],[10.1,17.7],[20.1,27.8],[30.4,38.1],[40.5,48.4],[50.5,58.4]],
];
const znteLayer = [[58, 59.4], [56.9, 58.3], [57.6, 59], [60.6, 62]];
// label anchors [e, Z]
const dpLabelPos = [[17.3, 73.8], [18.2, 73], [17.5, 74.1], [16.7, 74.2]];
const znteLabelPos = [[15.9, 61.9], [18.4, 59.6], [16.6, 63.6], [14.9, 66.8]];
const qlLabelE = [15.9, 16.6, 16.8, 16];
const qlLabelZ = [
  [51.1, 42, 32.3, 22.7, 13, 3.9],
  [51.5, 41.8, 32.2, 22.5, 13.2, 4.6],
  [49.7, 40.2, 29.9, 21, 11.5, 3.8],
  [54.1, 43.8, 33, 22.5, 12.7, 4.5],
];

const bandRows = [bandsR1, bandsR2, bandsR3, bandsR4];

const supRich = {
  s: { fontSize: 12, verticalAlign: "top", lineHeight: 12, fontFamily: FONT, color: "#111" },
  u: { fontSize: 12, verticalAlign: "bottom", lineHeight: 12, fontFamily: FONT, color: "#111", padding: [0, 0, -5, 0] },
};

function arrowSeries(g: number, tail: number[], tip: number[]) {
  const pxK = COL_W / 2;
  const pxE = ROW_H;
  const dx = (tip[0] - tail[0]) * pxK;
  const dy = (tip[1] - tail[1]) * pxE;
  const L = Math.hypot(dx, dy) || 1;
  const vx = -dx / L;
  const vy = -dy / L;
  const barb = (th: number) => {
    const rx = vx * Math.cos(th) - vy * Math.sin(th);
    const ry = vx * Math.sin(th) + vy * Math.cos(th);
    return [tip[0] + (rx * 12) / pxK, tip[1] + (ry * 12) / pxE];
  };
  const common = {
    type: "line",
    xAxisIndex: g,
    yAxisIndex: g,
    symbol: "none",
    silent: true,
    z: 9,
    clip: false,
    lineStyle: { color: "#000", width: 2.2 },
  };
  return [
    { ...common, data: [tail, tip] },
    { ...common, data: [barb(0.5), tip, barb(-0.5)] },
  ];
}

function buildOption() {
  const grid: any[] = [];
  const xAxis: any[] = [];
  const yAxis: any[] = [];
  const series: any[] = [];
  const graphic: any[] = [];

  for (let r = 0; r < 4; r++) {
    for (let c = 0; c < 4; c++) {
      const g = r * 4 + c;
      grid.push({
        left: COL_LEFT[c], top: ROW_TOP[r], width: COL_W, height: ROW_H,
        show: true, borderColor: "#1a1a1a", borderWidth: 1, backgroundColor: "#fff",
      });
      xAxis.push({
        type: "value", gridIndex: g, min: -1, max: 1, interval: 1,
        axisLine: { show: false }, axisTick: { show: false }, axisLabel: { show: false },
        splitLine: { show: true, lineStyle: { color: "#333", width: 1 } },
      });
      yAxis.push({
        type: "value", gridIndex: g, min: -0.5, max: 0.5, interval: 0.1,
        axisLine: { show: false },
        axisTick: { show: true, inside: true, length: 4, lineStyle: { color: "#222" } },
        axisLabel: {
          show: c === 0, margin: 9, fontSize: 18, color: "#111", fontFamily: FONT,
          formatter: (v: number) => {
            const s = (Math.abs(v) < 1e-9 ? 0 : v).toFixed(1);
            return energyTickLabels.indexOf(s) >= 0 ? s : "";
          },
        },
        splitLine: { show: false },
      });
      // zero-energy line
      series.push({
        type: "line", xAxisIndex: g, yAxisIndex: g, data: [[-1, 0], [1, 0]],
        symbol: "none", silent: true, z: 1, lineStyle: { color: "#111", width: 1 },
      });
      const bands = bandRows[r];
      bands.forEach((b) => {
        series.push({
          type: "line", xAxisIndex: g, yAxisIndex: g, data: b,
          symbol: "none", silent: true, z: 2, clip: true,
          lineStyle: { color: "#ee1a1a", width: 1 },
        });
      });
      const ss = smallDotSize[r][c];
      if (ss > 0) {
        const pts: number[][] = [];
        const sel = smallDotBands[r][c];
        bands.forEach((b, bi) => {
          if (sel && sel.indexOf(bi) < 0) return;
          b.forEach((p) => {
            if (p[1] >= -0.5 && p[1] <= 0.5 && p[0] >= -1 && p[0] <= 1) pts.push(p);
          });
        });
        series.push({
          type: "scatter", xAxisIndex: g, yAxisIndex: g, data: pts,
          symbolSize: ss, silent: true, z: 3, itemStyle: { color: dotColors[c] },
        });
      }
      series.push({
        type: "scatter", xAxisIndex: g, yAxisIndex: g, data: panelDots[r][c],
        symbolSize: (v: number[]) => v[2], silent: true, z: 4,
        itemStyle: { color: dotColors[c] },
      });
    }
  }

  // charge panels
  for (let r = 0; r < 4; r++) {
    const g = 16 + r;
    const yr = 17 + 2 * r;
    grid.push({
      left: CH_LEFT, top: CH_TOP[r], width: CH_W, height: CH_H[r],
      show: true, borderColor: "#1a1a1a", borderWidth: 1, backgroundColor: "#fff",
    });
    xAxis.push({
      type: "value", gridIndex: g, min: 0, max: 30, interval: 10, inverse: true,
      axisLine: { show: false },
      axisTick: { show: true, inside: true, length: 4, lineStyle: { color: "#222" } },
      axisLabel: { fontSize: 18, color: "#111", fontFamily: FONT, margin: 6 },
      splitLine: { show: false },
    });
    yAxis.push({
      type: "value", gridIndex: g, min: 0, max: 80, interval: 10, position: "left",
      axisLine: { show: false },
      axisTick: { show: true, inside: true, length: 5, lineStyle: { color: "#222" } },
      axisLabel: { show: false }, splitLine: { show: false },
    });
    yAxis.push({
      type: "value", gridIndex: g, min: 0, max: 80, interval: 10, position: "right",
      axisLine: { show: false },
      axisTick: { show: true, inside: true, length: 5, lineStyle: { color: "#222" } },
      axisLabel: { show: true, rotate: 90, fontSize: 18, color: "#111", fontFamily: FONT, margin: 6 },
      splitLine: { show: false },
    });
    series.push({
      type: "line", xAxisIndex: g, yAxisIndex: yr, data: [], silent: true, z: 1,
      markArea: {
        silent: true, itemStyle: { color: "#c2c2c2" },
        data: qlSlabs[r].map((s) => [{ yAxis: s[0] }, { yAxis: s[1] }]),
      },
    });
    series.push({
      type: "line", xAxisIndex: g, yAxisIndex: yr, data: [], silent: true, z: 1,
      markArea: {
        silent: true, itemStyle: { color: "#7ef6f6" },
        data: [[{ yAxis: znteLayer[r][0] }, { yAxis: znteLayer[r][1] }]],
      },
    });
    series.push({
      type: "line", xAxisIndex: g, yAxisIndex: yr, data: chargeCurves[r],
      symbol: "none", silent: true, z: 4, lineStyle: { color: "#ee1a1a", width: 1 },
    });
    const labels: any[] = [];
    labels.push({ value: dpLabelPos[r], label: { formatter: "DP{u|U}" } });
    labels.push({ value: znteLabelPos[r], label: { formatter: "ZnTe" } });
    qlNames.forEach((n, i) => labels.push({ value: [qlLabelE[r], qlLabelZ[r][i]], label: { formatter: n } }));
    series.push({
      type: "scatter", xAxisIndex: g, yAxisIndex: yr, data: labels, symbolSize: 0,
      silent: true, z: 6,
      label: {
        show: true, position: "inside", fontSize: 21, color: "#111", fontFamily: FONT,
        rich: supRich,
      },
    });
  }

  // Dirac point annotations
  dpMarks.forEach((m) => {
    const g = m.panel;
    series.push({
      type: "scatter", xAxisIndex: g, yAxisIndex: g, data: [m.center], symbolSize: 30,
      silent: true, z: 8,
      itemStyle: { color: "rgba(0,0,0,0)", borderColor: "#000", borderWidth: 2, borderType: [7, 5] },
    });
    arrowSeries(g, m.tail, m.tip).forEach((s) => series.push(s));
    series.push({
      type: "scatter", xAxisIndex: g, yAxisIndex: g, data: [m.text], symbolSize: 1,
      silent: true, z: 9, itemStyle: { color: "rgba(0,0,0,0)" },
      label: {
        show: true, position: "right", distance: 0, formatter: "DP{u|" + m.sub + "}",
        fontSize: 19, color: "#111", fontFamily: FONT, rich: supRich,
      },
    });
  });

  // ---------- texts ----------
  const labelX = [81, 258, 430, 608];
  for (let r = 0; r < 4; r++) {
    for (let c = 0; c < 4; c++) {
      graphic.push({
        type: "text", x: labelX[c], y: ROW_TOP[r] - 11, z: 20,
        style: { text: panelLetters[r][c], fontSize: 20, fontWeight: "bold", fontFamily: FONT, fill: "#111", verticalAlign: "middle", align: "left" },
      });
    }
  }
  const chLabelPos = [[783, 23], [800, 344], [803, 674], [805, 1000]];
  for (let r = 0; r < 4; r++) {
    graphic.push({
      type: "text", x: chLabelPos[r][0], y: chLabelPos[r][1], z: 20,
      style: { text: panelLetters[r][4], fontSize: 20, fontWeight: "bold", fontFamily: FONT, fill: "#111", verticalAlign: "middle", align: "left" },
    });
  }
  const titleX = [162, 339, 519, 690];
  columnTitles.forEach((t, c) => {
    graphic.push({
      type: "text", x: titleX[c], y: 18, z: 20,
      style: { text: t, fontSize: 21, fontFamily: FONT, fill: "#111", align: "center", verticalAlign: "middle", rich: supRich },
    });
  });
  graphic.push({
    type: "text", x: 855, y: 22, z: 20,
    style: { text: "charge", fontSize: 21, fontFamily: FONT, fill: "#111", align: "center", verticalAlign: "middle" },
  });
  const energyY = [170, 492, 830, 1150];
  energyY.forEach((y) => {
    graphic.push({
      type: "text", x: 25, y, rotation: Math.PI / 2, z: 20,
      style: { text: "Energy (eV)", fontSize: 23, fontFamily: FONT, fill: "#111", align: "center", verticalAlign: "middle" },
    });
  });
  const zY = [172, 500, 818, 1145];
  zY.forEach((y) => {
    graphic.push({
      type: "text", x: 944, y, rotation: Math.PI / 2, z: 20,
      style: { text: "Z (Å)", fontSize: 22, fontFamily: FONT, fill: "#111", align: "center", verticalAlign: "middle" },
    });
  });
  [161, 339, 516, 694].forEach((x) => {
    graphic.push({
      type: "text", x, y: 1330, z: 20,
      style: { text: "K←Γ→M", fontSize: 20, fontFamily: FONT, fill: "#111", align: "center", verticalAlign: "middle" },
    });
  });
  graphic.push({
    type: "text", x: 862, y: 1334, z: 20,
    style: {
      text: "e (10{s|-3} e/Å)", fontSize: 22, fontFamily: FONT, fill: "#111", align: "center", verticalAlign: "middle",
      rich: { s: { fontSize: 13, verticalAlign: "top", lineHeight: 13, fontFamily: FONT, color: "#111" } },
    },
  });

  return {
    animation: false,
    backgroundColor: "#fff",
    grid, xAxis, yAxis, series, graphic,
  };
}

export default function App() {
  const ref = useRef<HTMLDivElement>(null);
  useEffect(() => {
    if (!ref.current) return;
    const chart = echarts.init(ref.current, undefined, { renderer: "svg" });
    chart.setOption(buildOption() as any);
    return () => chart.dispose();
  }, []);
  return (
    <div
      ref={ref}
      style={{ position: "absolute", left: 0, top: 0, width: W, height: H, background: "#fff" }}
    />
  );
}
